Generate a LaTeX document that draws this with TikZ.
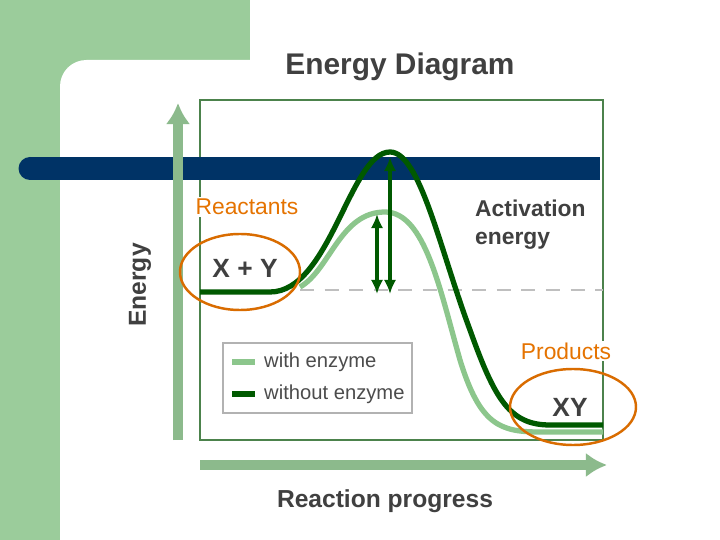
\documentclass[tikz,border=0pt]{standalone}
\usepackage{fontspec}
\setmainfont{Liberation Sans}
\begin{document}
\begin{tikzpicture}[x=0.02cm,y=-0.02cm,
  lbl/.style={font=\bfseries, text=black!75},
  org/.style={text=orange!90!black, fill=white, inner sep=1pt, font=\fontsize{13}{15}\selectfont},
  ring/.style={draw=orange!85!black, line width=1.4pt},
  dark/.style={draw=green!35!black, line width=3pt},
  light/.style={draw=green!50!black!45, line width=3pt},
  axis/.style={draw=green!40!black!45, line width=6pt, -{Latex[length=12pt,width=14pt]}}]
\usetikzlibrary{arrows.meta}
\definecolor{bg}{RGB}{155,204,155}
\definecolor{navy}{RGB}{0,51,102}
\useasboundingbox (0,0) rectangle (720,540);
\fill[bg] (0,0) rectangle (250,100);
\fill[bg] (0,0) rectangle (60,540);
\fill[white, rounded corners=15pt] (60,60) rectangle (800,620);
\fill[white] (250,-10) rectangle (800,100);
% frame
\draw[green!30!black!70, line width=1.5pt] (200,100) rectangle (603,440);
% navy bar
\fill[navy] (30,157) rectangle (600,180);
\fill[navy] (30,168.5) circle (11.5);
\node[lbl, font=\bfseries\fontsize{17}{20}\selectfont] (title) at (400,67) {Energy Diagram};
% axes
\coordinate (ya) at (178,440); \coordinate (yb) at (178,103);
\coordinate (xa) at (200,465); \coordinate (xb) at (607,465);
\draw[axis] (ya) -- (yb);
\draw[axis] (xa) -- (xb);
\node[lbl, rotate=90, font=\bfseries\fontsize{14}{16}\selectfont] (ylab) at (140,285) {Energy};
\node[lbl, font=\bfseries\fontsize{14}{16}\selectfont] (xlab) at (385,501) {Reaction progress};
% dashed level
\draw[gray!50, line width=1.2pt, dash pattern=on 8pt off 6pt] (300,290) -- (603,290);
% curves
\draw[light] (300,287) .. controls (330,270) and (340,212) .. (385,212)
  .. controls (425,212) and (440,290) .. (460,360)
  .. controls (480,425) and (500,432) .. (540,432) -- (603,432);
\draw[dark] (200,292) -- (270,292) .. controls (330,292) and (350,152) .. (390,152)
  .. controls (420,152) and (440,250) .. (470,330)
  .. controls (495,400) and (510,425) .. (550,425) -- (603,425);
% activation arrows
\coordinate (a1) at (377,214); \coordinate (a2) at (377,294);
\coordinate (b1) at (390,157); \coordinate (b2) at (390,294);
\draw[green!35!black, line width=2pt, {Latex[length=8pt,width=7pt]}-{Latex[length=8pt,width=7pt]}] (a1) -- (a2);
\draw[green!35!black, line width=2pt, {Latex[length=8pt,width=7pt]}-{Latex[length=8pt,width=7pt]}] (b1) -- (b2);
\node[lbl, align=left, font=\bfseries\fontsize{13}{16}\selectfont, anchor=west] (act) at (469,225) {Activation\\energy};
% legend
\draw[gray!60, line width=1.2pt] (223,343) rectangle (412,413);
\coordinate (l1a) at (232,362); \coordinate (l1b) at (255,362);
\coordinate (l2a) at (232,394); \coordinate (l2b) at (255,394);
\draw[light] (l1a) -- (l1b);
\draw[dark] (l2a) -- (l2b);
\node[text=black!70, anchor=west, font=\fontsize{11.5}{14}\selectfont] (w1) at (258,362) {with enzyme};
\node[text=black!70, anchor=west, font=\fontsize{11.5}{14}\selectfont] (w2) at (258,394) {without enzyme};
% species
\node[lbl, font=\bfseries\fontsize{15}{18}\selectfont] (xy1) at (245,268) {X + Y};
\node[lbl, font=\bfseries\fontsize{15}{18}\selectfont] (xy2) at (570,407) {XY};
\draw[ring] (240,272) ellipse (60 and 38);
\draw[ring] (573,407) ellipse (63 and 38);
\node[org] (re) at (247,207) {Reactants};
\node[org] (pr) at (566,351) {Products};
\end{tikzpicture}
\end{document}
